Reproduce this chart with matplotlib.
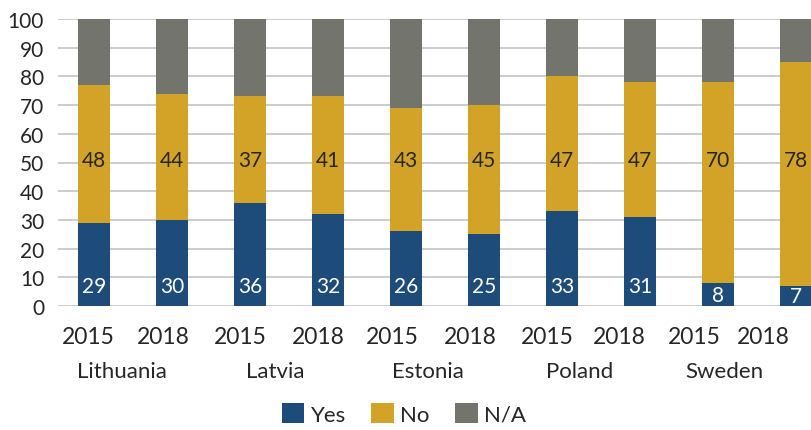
import matplotlib
matplotlib.use("Agg")
import matplotlib.pyplot as plt
import numpy as np

plt.rcParams['font.family'] = ['Lato', 'DejaVu Sans']

countries = ["Lithuania", "Latvia", "Estonia", "Poland", "Sweden"]
years = ["2015", "2018"] * 5
yes = [29, 30, 36, 32, 26, 25, 33, 31, 8, 7]
no = [48, 44, 37, 41, 43, 45, 47, 47, 70, 78]
na = [23, 26, 27, 27, 31, 30, 20, 22, 22, 15]

c_yes = "#1d4b7a"
c_no = "#d3a328"
c_na = "#73756c"
txt = "#262626"

fig = plt.figure(figsize=(8.11, 4.31), dpi=100)
ax = fig.add_axes([58/811, 1 - 307/431, (794 - 58)/811, (307 - 20)/431])

x = np.arange(len(yes))
yes = np.array(yes)
no = np.array(no)
na = np.array(na)
w = 0.41

b1 = ax.bar(x, yes, w, color=c_yes, label="Yes", clip_on=False, zorder=3)
b2 = ax.bar(x, no, w, bottom=yes, color=c_no, label="No", clip_on=False, zorder=3)
b3 = ax.bar(x, na, w, bottom=yes + no, color=c_na, label="N/A", clip_on=False, zorder=3)

# value labels
for xi, v in zip(x, yes):
    ax.text(xi, min(v / 2, 7), str(v), ha="center", va="center", color="white",
            fontsize=15, zorder=4, clip_on=False)
for xi, v in zip(x, no):
    ax.text(xi, 51, str(v), ha="center", va="center", color=txt,
            fontsize=15, zorder=4, clip_on=False)

ax.set_xlim(-0.4615, 8.974)
ax.set_ylim(0, 100)
ax.set_yticks(range(0, 101, 10))
ax.tick_params(axis="y", length=0, labelsize=15, labelcolor=txt, pad=10)
ax.set_xticks([])
ax.grid(axis="y", color="#cccccc", linewidth=1.4, zorder=0)
ax.set_axisbelow(True)
for s in ax.spines.values():
    s.set_visible(False)

# year and country labels under the bars
year_x = [-0.077, 0.885, 1.87, 2.87, 3.82, 4.83, 5.81, 6.74, 7.69, 8.58]
for xp, lab in zip(year_x, years):
    ax.text(xp, -10.5, lab, ha="center", va="center", fontsize=16.5, color=txt,
            clip_on=False)
for i, c in enumerate(countries):
    xp = (year_x[2 * i] + year_x[2 * i + 1]) / 2 - 0.05
    ax.text(xp, -22.5, c, ha="center", va="center", fontsize=16, color=txt,
            clip_on=False)

fig.legend(handles=[b1, b2, b3], labels=["Yes", "No", "N/A"], loc="center",
           bbox_to_anchor=(404/811, 16/431), ncol=3, frameon=False,
           fontsize=16, handlelength=1.0, handleheight=1.0,
           handletextpad=0.3, columnspacing=1.15, labelcolor=txt)

fig.savefig("out.png", dpi=100)
